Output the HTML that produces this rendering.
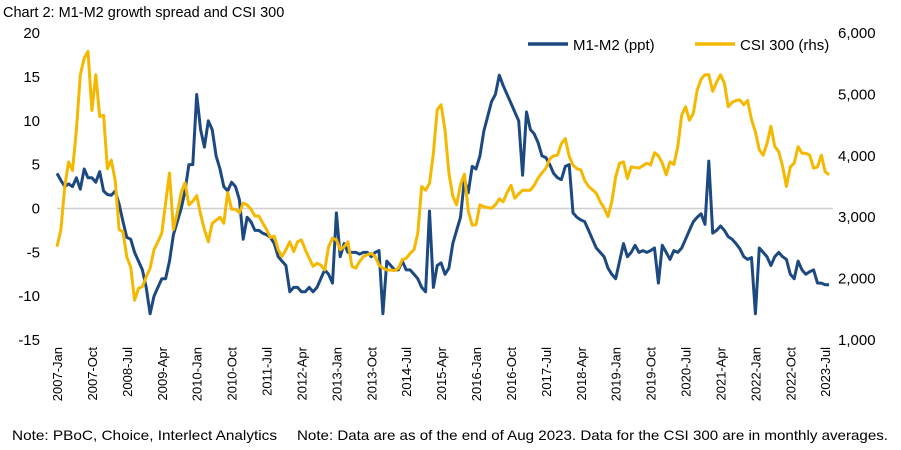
<!DOCTYPE html>
<html><head><meta charset="utf-8"><style>
html,body{margin:0;padding:0;background:#fff;}
svg{display:block;font-family:"Liberation Sans",sans-serif;}
</style></head><body>
<svg id="chart" width="901" height="450" viewBox="0 0 901 450">
<text x="3" y="17" font-size="14.5" fill="#000">Chart 2: M1-M2 growth spread and CSI 300</text>
<g id="axes"></g>
<g>
<line x1="528" y1="44" x2="568" y2="44" stroke="#1c4980" stroke-width="3.5"/>
<text x="573" y="50" font-size="15">M1-M2 (ppt)</text>
<line x1="695" y1="44" x2="735" y2="44" stroke="#f5b800" stroke-width="3.5"/>
<text x="740" y="50" font-size="15">CSI 300 (rhs)</text>
</g>
<text x="12" y="440" font-size="14" textLength="265" lengthAdjust="spacingAndGlyphs">Note: PBoC, Choice, Interlect Analytics</text>
<text x="297" y="440" font-size="14" textLength="591" lengthAdjust="spacingAndGlyphs">Note: Data are as of the end of Aug 2023. Data for the CSI 300 are in monthly averages.</text>
</svg>
<script>
const leftTicks = [20,15,10,5,0,-5,-10,-15];
const rightTicks = [6000,5000,4000,3000,2000,1000];
const xLabels = ["2007-Jan","2007-Oct","2008-Jul","2009-Apr","2010-Jan","2010-Oct","2011-Jul","2012-Apr","2013-Jan","2013-Oct","2014-Jul","2015-Apr","2016-Jan","2016-Oct","2017-Jul","2018-Apr","2019-Jan","2019-Oct","2020-Jul","2021-Apr","2022-Jan","2022-Oct","2023-Jul"];
const m1m2 = [
4,3.2,2.5,2.8,2.5,3.5,2.2,4.5,3.5,3.5,3,4.2,
2,1.6,1.5,2,0.5,-1.5,-3.3,-3.5,-5,-6,-7,-9,
-12,-10,-9,-8,-8,-6,-3,-1.5,0,2,5,5,
13,9,7,10,9,6,4.5,2.5,2,3,2.5,1,
-3.5,-1,-1.5,-2.5,-2.5,-2.8,-3,-3.3,-4,-5.5,-6,-6.5,
-9.5,-9,-9,-9.5,-9.5,-9,-9.5,-9,-8,-7,-7.5,-8.5,
-0.5,-5.5,-4,-5,-5,-5,-5.2,-5,-5,-5.5,-5,-4.8,
-12,-6,-6.5,-7,-7,-6,-7,-7,-7.5,-8,-9,-9.5,
-0.3,-9,-6.5,-6.2,-7.5,-6.8,-4,-2.5,-1,3.3,1.8,4.8,
4.5,6,8.8,10.5,12.2,13,15.2,14,13,12,11,10,
3.8,11,9,8.5,7.5,6,5.8,5,4,3.5,3.3,4.8,
5,-0.5,-1,-1.3,-1.5,-2.5,-3.5,-4.5,-5,-5.5,-6.8,-7.5,
-8,-6,-4,-5.5,-5,-4.2,-5,-4.8,-5,-4.8,-4.5,-8.5,
-4.2,-5,-5.8,-4.8,-5,-4.5,-3.5,-2.5,-1.5,-1,-0.6,-1.8,
5.4,-2.8,-2.5,-2,-2.5,-3.2,-3.5,-4,-4.6,-5.5,-5.8,-5.6,
-12,-4.5,-5,-5.5,-6.5,-5.5,-5,-5.5,-5.8,-7.5,-8,-6,
-7,-7.5,-7.2,-7,-8.5,-8.5,-8.7,-8.7];
const csi300 = [
2520,2800,3500,3900,3760,4420,5320,5590,5700,4740,5320,4640,
4660,3790,3930,3600,2800,2760,2350,2190,1650,1840,1870,2030,
2170,2470,2600,2740,3230,3720,2800,3070,3400,3560,3200,3260,
3350,3050,2800,2600,2900,2950,3000,2900,3400,3130,3130,3070,
3230,3200,3130,3020,3020,2910,2800,2670,2690,2470,2360,2470,
2600,2440,2600,2630,2470,2330,2200,2250,2220,2140,2520,2660,
2630,2470,2520,2600,2200,2170,2280,2360,2390,2410,2360,2220,
2170,2140,2140,2130,2170,2310,2330,2410,2470,2740,3500,3440,
3550,4040,4750,4830,4420,3720,3340,3200,3530,3700,3100,2870,
2880,3200,3170,3160,3145,3200,3300,3250,3400,3520,3310,3380,
3440,3440,3440,3520,3640,3720,3800,3950,4000,4010,4200,4280,
3990,3850,3790,3770,3600,3500,3450,3390,3250,3150,3010,3250,
3660,3880,3900,3630,3820,3810,3800,3840,3880,3850,4050,4000,
3880,3690,3900,3860,4150,4660,4800,4580,4690,5070,5250,5320,
5320,5050,5200,5320,5180,4800,4870,4900,4910,4830,4900,4590,
4390,4100,4010,4200,4480,4150,4070,3830,3500,3820,3880,4150,
4040,4040,4010,3800,3820,4010,3740,3690];

const NS="http://www.w3.org/2000/svg";
const axes=document.getElementById('axes');
const X0=57, DX=3.88;
const xOf=i=>X0+i*DX;
const yL=v=>208.5-(v)*(307/35);
const yR=v=>340-(v-1000)*(307/5000);
function mk(tag,attrs,parent){const e=document.createElementNS(NS,tag);for(const k in attrs)e.setAttribute(k,attrs[k]);(parent||axes).appendChild(e);return e;}

const zl=mk('line',{x1:X0,x2:833,y1:yL(0),y2:yL(0),stroke:'#d0d0d0','stroke-width':1.5});



leftTicks.forEach(v=>{
  const t=mk('text',{x:40,y:yL(v)+5,'font-size':15,'text-anchor':'end'});
  t.textContent=v;
  
  
});
rightTicks.forEach(v=>{
  const t=mk('text',{x:838,y:yR(v)+5,'font-size':15});
  t.textContent=v.toLocaleString('en-US');
  
  
});
xLabels.forEach((l,k)=>{
  const x=xOf(k*9)+5;
  const t=mk('text',{x:0,y:0,'font-size':13,'text-anchor':'end',transform:`translate(${x},347) rotate(-90)`});
  t.textContent=l;
  
  
});
function line(data,yf,color,name){
  const d=data.map((v,i)=>(i?'L':'M')+xOf(i).toFixed(1)+','+yf(v).toFixed(1)).join('');
  const p=mk('path',{d:d,fill:'none',stroke:color,'stroke-width':3,'stroke-linejoin':'round'});
  
  
}
line(m1m2,yL,'#1c4980','m1-m2-line');
line(csi300,yR,'#f5b800','csi300-line');
</script>
</body></html>
